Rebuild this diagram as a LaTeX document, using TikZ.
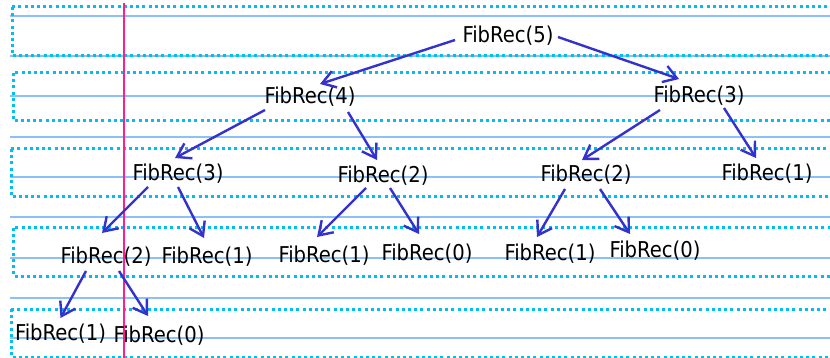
\documentclass[tikz,border=0pt]{standalone}
\usepackage{fontspec}
\setmainfont{DejaVu Sans Condensed}
\usetikzlibrary{arrows.meta}
\definecolor{ruleblue}{RGB}{140,192,250}
\definecolor{dotcyan}{RGB}{0,190,240}
\definecolor{marginpink}{RGB}{255,30,140}
\definecolor{arrowblue}{RGB}{52,50,205}
\tikzset{
  fib/.style={inner sep=0pt, anchor=base, font=\fontsize{21.8}{22}\selectfont, text=black},
  ruleline/.style={draw=ruleblue, line width=1.4pt},
  levelbox/.style={draw=dotcyan, line width=3pt, dash pattern=on 3pt off 3.2pt},
  call/.style={draw=arrowblue, line width=2.4pt, -{Straight Barb[length=13pt,width=17pt,line width=2.4pt]}},
}
\begin{document}
\begin{tikzpicture}[x=1pt,y=-1pt]
\clip (0,0) rectangle (830,358);
\fill[white] (0,0) rectangle (830,358);
% ruled lines
\foreach \yy in {16,56,96,137,177,217,258,298,338}
  \draw[ruleline] (10,\yy) -- (835,\yy);
% dotted level boxes
\draw[levelbox] (12,7) rectangle (845,56);
\draw[levelbox] (13,73) rectangle (845,121);
\draw[levelbox] (11,149) rectangle (845,197);
\draw[levelbox] (13,228) rectangle (845,276);
\draw[levelbox] (11,309) rectangle (845,357);
% margin line
\draw[marginpink, line width=1.2pt] (124,3) -- (124,360);
% nodes
\node[fib] (a5) at (508,43) {FibRec(5)};
\node[fib] (a4) at (310,104) {FibRec(4)};
\node[fib] (a3) at (699,103) {FibRec(3)};
\node[fib] (b3) at (178,181) {FibRec(3)};
\node[fib] (b2) at (383,183) {FibRec(2)};
\node[fib] (b2r) at (586,182) {FibRec(2)};
\node[fib] (b1r) at (767,181) {FibRec(1)};
\node[fib] (c2) at (106,263) {FibRec(2)};
\node[fib] (c1a) at (207,263) {FibRec(1)};
\node[fib] (c1b) at (324,262) {FibRec(1)};
\node[fib] (c0b) at (427,260) {FibRec(0)};
\node[fib] (c1c) at (550,261) {FibRec(1)};
\node[fib] (c0c) at (655,258) {FibRec(0)};
\node[fib] (d1) at (60.5,340) {FibRec(1)};
\node[fib] (d0) at (159,342) {FibRec(0)};
% calls
\draw[call] ([shift={(-53,-3)}]a5.base) -- ([shift={(10,-20)}]a4.base);
\draw[call] ([shift={(50,-6)}]a5.base) -- ([shift={(-20,-24)}]a3.base);
\draw[call] ([shift={(-45,6)}]a4.base) -- ([shift={(-3,-23)}]b3.base);
\draw[call] ([shift={(38,8)}]a4.base) -- ([shift={(-6,-23)}]b2.base);
\draw[call] ([shift={(-39,7)}]a3.base) -- ([shift={(-4,-22)}]b2r.base);
\draw[call] ([shift={(25,5)}]a3.base) -- ([shift={(-11,-23)}]b1r.base);
\draw[call] ([shift={(-30,6)}]b3.base) -- ([shift={(-4,-30)}]c2.base);
\draw[call] ([shift={(0,6)}]b3.base) -- ([shift={(-3,-25)}]c1a.base);
\draw[call] ([shift={(-17,5)}]b2.base) -- ([shift={(-7,-25)}]c1b.base);
\draw[call] ([shift={(7,5)}]b2.base) -- ([shift={(-8,-26)}]c0b.base);
\draw[call] ([shift={(-21,7)}]b2r.base) -- ([shift={(-13,-24)}]c1c.base);
\draw[call] ([shift={(14,7)}]b2r.base) -- ([shift={(-25,-24)}]c0c.base);
\draw[call] ([shift={(-20,8)}]c2.base) -- ([shift={(0,-22)}]d1.base);
\draw[call] ([shift={(13,8)}]c2.base) -- ([shift={(-11,-26)}]d0.base);
\end{tikzpicture}
\end{document}
